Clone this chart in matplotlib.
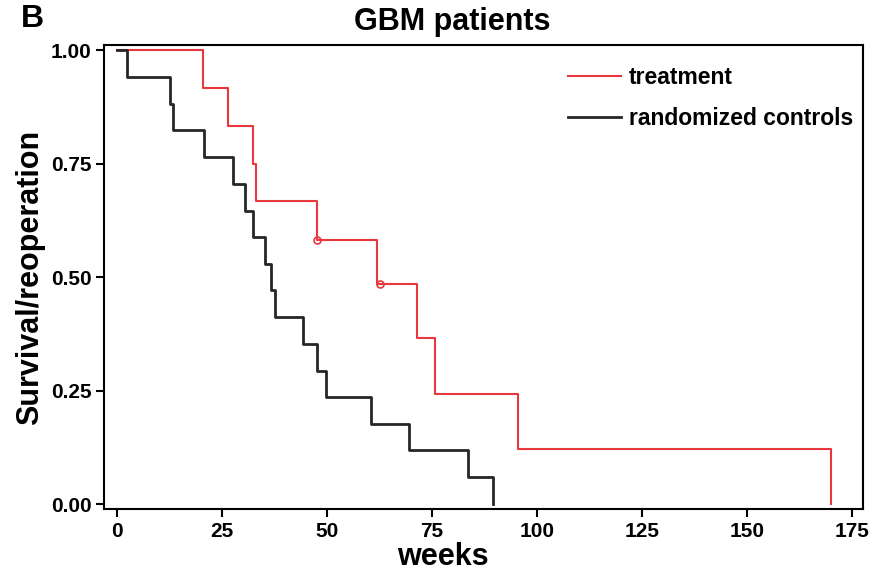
import matplotlib
matplotlib.use("Agg")
import matplotlib.pyplot as plt

plt.rcParams['font.family'] = ['Liberation Sans', 'DejaVu Sans']
plt.rcParams['font.weight'] = 'bold'

# Kaplan-Meier curves (weeks, survival after the step)
treat_times = [0, 20.6, 26.6, 32.5, 33.2, 47.6, 61.9, 71.4, 75.8, 95.6, 170.0]
treat_surv = [1.0, 0.917, 0.833, 0.750, 0.667, 0.583, 0.486, 0.365, 0.243, 0.122, 0.0]
treat_cens_t = [47.6, 62.7]
treat_cens_s = [0.583, 0.486]

ctrl_times = [0, 2.4, 12.7, 13.5, 20.8, 27.6, 30.5, 32.4, 35.3, 36.7, 37.7,
              44.4, 47.6, 49.8, 60.5, 69.7, 83.7, 89.7]
ctrl_surv = [1.0, 0.941, 0.882, 0.824, 0.765, 0.706, 0.647, 0.588, 0.529, 0.471,
             0.412, 0.353, 0.294, 0.235, 0.176, 0.118, 0.059, 0.0]

xticks = [0, 25, 50, 75, 100, 125, 150, 175]
yticks = [0.0, 0.25, 0.5, 0.75, 1.0]

fig = plt.figure(figsize=(8.82, 5.76), dpi=100)
ax = fig.add_axes([0.1179, 0.1163, 0.8602, 0.8056])

red = '#e8383d'
dark = '#262626'

ax.step(treat_times, treat_surv, where='post', color=red, lw=1.5, label='treatment')
ax.step(ctrl_times, ctrl_surv, where='post', color=dark, lw=2.0, label='randomized controls')
ax.plot(treat_cens_t, treat_cens_s, 'o', mfc='none', mec=red, ms=5, mew=1.2)

ax.set_xlim(-3, 177.6)
ax.set_ylim(-0.011, 1.012)
ax.set_xticks(xticks)
ax.set_yticks(yticks)
ax.set_xticklabels([str(t) for t in xticks])
ax.set_yticklabels([f"{t:.2f}" for t in yticks])
ax.tick_params(direction='out', length=6, width=1.5, pad=3, labelsize=15)
for lab in ax.get_xticklabels() + ax.get_yticklabels():
    lab.set_fontweight('bold')
for sp in ax.spines.values():
    sp.set_linewidth(1.5)

ax.set_xlabel('weeks', fontsize=22, fontweight='bold')
ax.xaxis.set_label_coords(0.447, -0.072)
ax.set_ylabel('Survival/reoperation', fontsize=22, fontweight='bold')
ax.yaxis.set_label_coords(-0.078, 0.5)
ax.text(0.459, 1.050, 'GBM patients', transform=ax.transAxes, ha='center', va='center',
        fontsize=22, fontweight='bold')
fig.text(0.037, 0.967, 'B', ha='center', va='center', fontsize=23, fontweight='bold')

ax.legend(loc='upper left', bbox_to_anchor=(0.6116, 0.955), frameon=False,
          prop={'size': 16.5, 'weight': 'bold'}, handlelength=2.3, handletextpad=0.35,
          labelspacing=0.8, borderpad=0, borderaxespad=0)

fig.savefig('out.png', dpi=100)
